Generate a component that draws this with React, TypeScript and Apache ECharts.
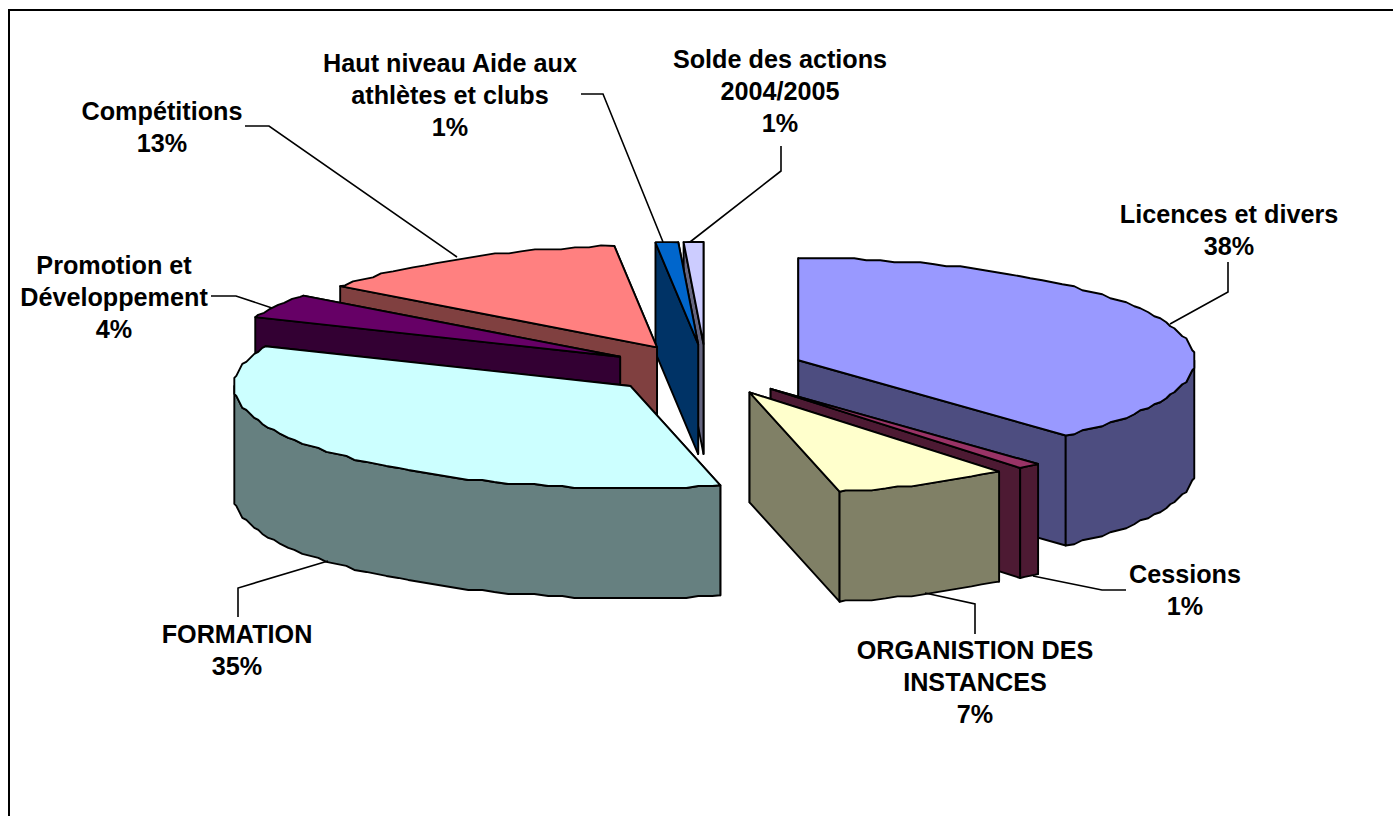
import React, { useEffect, useRef } from "react";
import * as echarts from "echarts";

// Slices, clockwise from 12 o'clock
const categories = [
  "Licences et divers",
  "Cessions",
  "ORGANISTION DES\nINSTANCES",
  "FORMATION",
  "Promotion et\nDéveloppement",
  "Compétitions",
  "Haut niveau Aide aux\nathlètes et clubs",
  "Solde des actions\n2004/2005",
];
const shares = [38.2, 0.95, 7.2, 35.0, 3.89, 13.04, 0.92, 0.8];
const topColors = ["#9999FF", "#993366", "#FFFFCC", "#CCFFFF", "#660066", "#FF8080", "#0066CC", "#CCCCFF"];
const sideColors = ["#4D4D80", "#4D1A33", "#808066", "#668080", "#330033", "#804040", "#003366", "#666680"];
// Painter's order, back to front
const drawOrder = [7, 6, 5, 4, 3, 0, 1, 2];

// Layout of the labels and their leader lines
const labelCenters = [
  [1229, 230], [1185, 590], [975, 682], [237, 650], [114, 297], [162, 127], [450, 95], [780, 91],
];
const leaders = [
  [[1228, 262], [1228, 292], [1170, 324]],
  [[1126, 590], [1102, 590], [1033, 576]],
  [[975, 634], [975, 604], [925, 593]],
  [[238, 617], [238, 588], [328, 561]],
  [[211, 296], [236, 296], [272, 308]],
  [[245, 126], [269, 126], [457, 257]],
  [[581, 94], [603, 94], [663, 242]],
  [[781, 146], [781, 171], [690, 242]],
];

const CX = 706;
const CY = 369.5;
const RX = 396;
const RY = 102;
const DEPTH = 110;
const EXPLODE = 0.25;
const STEP = 2;
const GRID = 2;
const FONT = '"Liberation Sans", Arial, sans-serif';

const total = shares.reduce((a, b) => a + b, 0);
const starts: number[] = [];
shares.reduce((acc, v) => {
  starts.push((acc / total) * 360);
  return acc + v;
}, 0);

const rad = (d: number) => (d * Math.PI) / 180;
const ex = (d: number) => RX * Math.sin(rad(d));
const ey = (d: number) => -RY * Math.cos(rad(d));

function rimAngles(a0: number, a1: number) {
  const list = [a0];
  for (let k = Math.ceil(a0 / STEP + 1e-6); k * STEP < a1 - 1e-6; k++) list.push(k * STEP);
  list.push(a1);
  return list;
}

function rimPoint(ax: number, ay: number, d: number, a0: number, a1: number) {
  const x = ex(d);
  const y = ey(d);
  const exact = d === a0 || d === a1;
  return exact
    ? [ax + x, ay + y]
    : [ax + Math.round(x / GRID) * GRID, ay + Math.round(y / GRID) * GRID];
}

const renderSlice = (_params: any, api: any) => {
  const i = api.value(0);
  const a0 = starts[i];
  const a1 = a0 + (api.value(1) / total) * 360;
  const mid = (a0 + a1) / 2;
  const ax = CX + EXPLODE * ex(mid);
  const ay = CY + EXPLODE * ey(mid);
  const lineStyle = { stroke: "#000", lineWidth: 1.9, lineJoin: "round" };
  const side = { ...lineStyle, fill: sideColors[i] };
  const wall = (d: number) => ({
    type: "polygon",
    shape: {
      points: [
        [ax, ay],
        [ax + ex(d), ay + ey(d)],
        [ax + ex(d), ay + ey(d) + DEPTH],
        [ax, ay + DEPTH],
      ],
    },
    style: side,
  });
  const children: any[] = mid < 180 ? [wall(a0), wall(a1)] : [wall(a1), wall(a0)];
  const f0 = Math.max(a0, 90);
  const f1 = Math.min(a1, 270);
  if (f1 > f0) {
    const rim = rimAngles(f0, f1).map((d) => rimPoint(ax, ay, d, f0, f1));
    const lower = rim.map((p) => [p[0], p[1] + DEPTH]).reverse();
    children.push({ type: "polygon", shape: { points: [...rim, ...lower] }, style: side });
  }
  const top = rimAngles(a0, a1).map((d) => rimPoint(ax, ay, d, a0, a1));
  children.push({
    type: "polygon",
    shape: { points: [[ax, ay], ...top] },
    style: { ...lineStyle, fill: topColors[i] },
  });
  return { type: "group", children };
};

export default function App() {
  const ref = useRef<HTMLDivElement>(null);
  useEffect(() => {
    document.body.style.margin = "0";
    const chart = echarts.init(ref.current!, undefined, { renderer: "svg" });
    const graphic: any[] = [
      { type: "line", shape: { x1: 9, y1: 10, x2: 1393, y2: 10 }, style: { stroke: "#000", lineWidth: 2 } },
      { type: "line", shape: { x1: 9, y1: 9, x2: 9, y2: 816 }, style: { stroke: "#000", lineWidth: 2 } },
    ];
    categories.forEach((name, i) => {
      graphic.push({
        type: "polyline",
        shape: { points: leaders[i] },
        style: { stroke: "#000", lineWidth: 1.6, fill: "none" },
        z: 5,
      });
      graphic.push({
        type: "text",
        x: labelCenters[i][0],
        y: labelCenters[i][1],
        z: 6,
        style: {
          text: `${name}\n${Math.round((shares[i] / total) * 100)}%`,
          font: `bold 25.2px ${FONT}`,
          fill: "#000",
          align: "center",
          verticalAlign: "middle",
          lineHeight: 32,
        },
      });
    });
    chart.setOption({
      animation: false,
      backgroundColor: "#fff",
      graphic,
      series: [
        {
          type: "custom",
          coordinateSystem: "none",
          silent: true,
          renderItem: renderSlice,
          data: drawOrder.map((i) => [i, shares[i]]),
          z: 2,
        },
      ],
    });
    return () => chart.dispose();
  }, []);
  return <div ref={ref} style={{ position: "fixed", left: 0, top: 0, width: 1393, height: 816 }} />;
}
